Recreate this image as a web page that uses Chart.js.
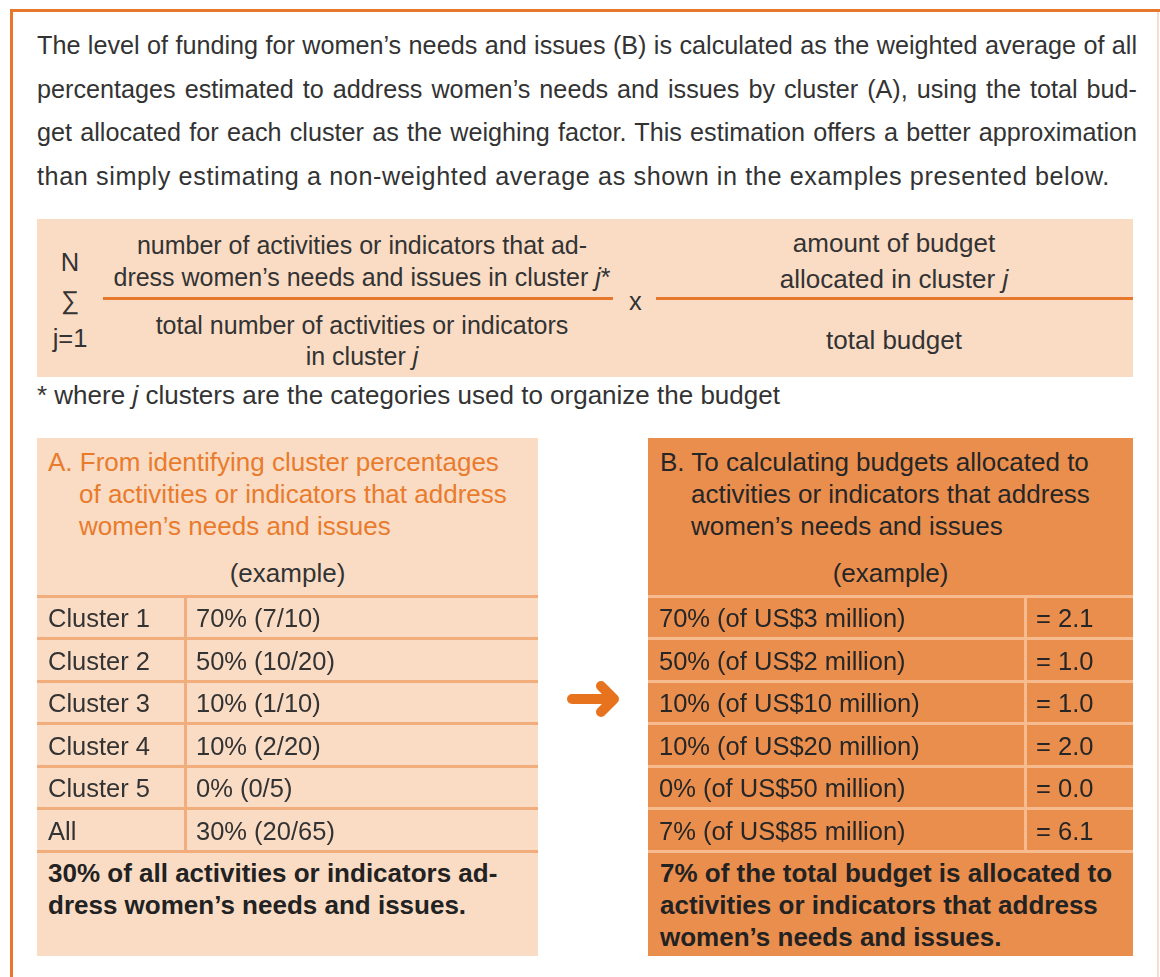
<!DOCTYPE html>
<html lang="en">
<head>
<meta charset="UTF-8">
<script src="https://cdn.jsdelivr.net/npm/chart.js@4.4.1/dist/chart.umd.min.js"></script>
<title>weighted funding example</title>
<style>
  body { margin:0; width:1160px; height:977px; overflow:hidden; background:#fff;
         font-family:"Liberation Sans", Arial, sans-serif; color:#333; position:relative; }
  .frame { position:absolute; left:10px; top:9px; width:1150px; height:968px;
           border-top:3px solid #e8772e; border-left:3px solid #e8772e; }
  .edge { position:absolute; left:1157px; top:12px; width:2px; height:965px; background:#f8dccb; }
  .para { position:absolute; left:37px; top:24px; width:1100px; font-size:25.2px; line-height:43.5px; }
  .para div { text-align:justify; text-align-last:justify; white-space:nowrap; }
  .para div:last-child { text-align-last:left; letter-spacing:0.6px; }
  .t { position:absolute; white-space:nowrap; font-size:25.5px; line-height:32px; }
  .h { font-size:26px; }
  .c { text-align:center; }
  .box { position:absolute; }
  .rule { position:absolute; height:3px; background:#e8772e; }
  .bold { font-weight:bold; font-size:26px; color:#222; }
  canvas { position:absolute; }
</style>
</head>
<body>
<div class="frame"></div>
<div class="edge"></div>

<div class="para">
  <div>The level of funding for women’s needs and issues (B) is calculated as the weighted average of all</div>
  <div>percentages estimated to address women’s needs and issues by cluster (A), using the total bud-</div>
  <div>get allocated for each cluster as the weighing factor. This estimation offers a better approximation</div>
  <div>than simply estimating a non-weighted average as shown in the examples presented below.</div>
</div>

<!-- formula -->
<div class="box" style="left:37px;top:219px;width:1096px;height:158px;background:#fadcc5"></div>
<div class="t c" style="left:50px;width:40px;top:246px">N</div>
<div class="t c" style="left:50px;width:40px;top:284px">∑</div>
<div class="t c" style="left:50px;width:40px;top:322px">j=1</div>
<div class="t c" style="left:112px;width:500px;top:229px;font-size:25px">number of activities or indicators that ad-</div>
<div class="t c" style="left:112px;width:500px;top:261px;font-size:25px">dress women’s needs and issues in cluster <i>j</i>*</div>
<div class="rule" style="left:103px;top:297px;width:510px"></div>
<div class="t" style="left:629px;top:285px">x</div>
<div class="rule" style="left:656px;top:297px;width:477px"></div>
<div class="t c h" style="left:660px;width:468px;top:227px">amount of budget</div>
<div class="t c h" style="left:660px;width:468px;top:263px">allocated in cluster <i>j</i></div>
<div class="t c" style="left:112px;width:500px;top:309px;font-size:25px">total number of activities or indicators</div>
<div class="t c" style="left:112px;width:500px;top:340px;font-size:25px">in cluster <i>j</i></div>
<div class="t c h" style="left:660px;width:468px;top:324px">total budget</div>
<div class="t h" style="left:37px;top:379px">* where <i>j</i> clusters are the categories used to organize the budget</div>

<!-- panel A -->
<div class="box" style="left:37px;top:438px;width:501px;height:518px;background:#fadcc5"></div>
<div class="t h" style="left:48px;top:446px;color:#e97b2c">A. From identifying cluster percentages</div>
<div class="t h" style="left:79px;top:478px;color:#e97b2c">of activities or indicators that address</div>
<div class="t h" style="left:79px;top:510px;color:#e97b2c">women’s needs and issues</div>
<div class="t c h" style="left:37px;width:501px;top:557px">(example)</div>
<canvas id="tableA" width="501" height="259" style="left:37px;top:594px"></canvas>
<div class="t bold" style="left:48px;top:857px">30% of all activities or indicators ad-</div>
<div class="t bold" style="left:48px;top:889px">dress women’s needs and issues.</div>

<!-- arrow -->
<svg class="box" style="left:560px;top:680px" width="70" height="40">
  <path d="M12,19 L46,19 M41,6 L54,19 L41,32" fill="none" stroke="#e8731f" stroke-width="10"
        stroke-linecap="round" stroke-linejoin="round"/>
</svg>

<!-- panel B -->
<div class="box" style="left:648px;top:438px;width:485px;height:518px;background:#ea8e4e"></div>
<div class="t h" style="left:660px;top:446px;color:#262626">B. To calculating budgets allocated to</div>
<div class="t h" style="left:691px;top:478px;color:#262626">activities or indicators that address</div>
<div class="t h" style="left:691px;top:510px;color:#262626">women’s needs and issues</div>
<div class="t c h" style="left:648px;width:485px;top:557px;color:#262626">(example)</div>
<canvas id="tableB" width="485" height="259" style="left:648px;top:594px"></canvas>
<div class="t bold" style="left:660px;top:857px">7% of the total budget is allocated to</div>
<div class="t bold" style="left:660px;top:889px">activities or indicators that address</div>
<div class="t bold" style="left:660px;top:921px">women’s needs and issues.</div>

<script>
// rows of both tables
const clusters = ['Cluster 1', 'Cluster 2', 'Cluster 3', 'Cluster 4', 'Cluster 5', 'All'];
const addressCount = [7, 10, 1, 2, 0, 20];
const totalCount = [10, 20, 10, 20, 5, 65];
const clusterPct = [70, 50, 10, 10, 0, 30];
const budgetMillions = [3, 2, 10, 20, 50, 85];
const allocPct = [70, 50, 10, 10, 0, 7];
const allocated = [2.1, 1.0, 1.0, 2.0, 0.0, 6.1];

const colA = clusters;
const colB = clusterPct.map((p, i) => `${p}% (${addressCount[i]}/${totalCount[i]})`);
const colC = allocPct.map((p, i) => `${p}% (of US$${budgetMillions[i]} million)`);
const colD = allocated.map(v => `= ${v.toFixed(1)}`);

// draws the cell text at the row centres of the y scale
const cellText = {
    id: 'cellText',
    afterDraw(chart, args, opts) {
        const ctx = chart.ctx;
        const y = chart.scales.y;
        const split = chart.scales.x.getPixelForValue(opts.split);
        ctx.save();
        ctx.font = '25.5px "Liberation Sans", Arial, sans-serif';
        ctx.fillStyle = opts.color;
        ctx.textBaseline = 'middle';
        clusters.forEach((c, i) => {
            const py = y.getPixelForValue(i) + 3;
            ctx.fillText(opts.left[i], chart.chartArea.left + 11, py);
            ctx.fillText(opts.right[i], split + 11, py);
        });
        ctx.restore();
    }
};

function makeTable(id, split, lineColor, textColor, left, right) {
    return new Chart(document.getElementById(id), {
        type: 'bar',
        data: { labels: clusters, datasets: [] },
        options: {
            indexAxis: 'y',
            responsive: false,
            animation: false,
            devicePixelRatio: 1,
            layout: { padding: { top: 2, bottom: 2, left: 0, right: 0 } },
            plugins: {
                legend: { display: false },
                tooltip: { enabled: false },
                cellText: { split, color: textColor, left, right }
            },
            scales: {
                y: {
                    type: 'category',
                    offset: true,
                    ticks: { display: false },
                    border: { display: false },
                    grid: { offset: true, color: lineColor, lineWidth: 3, drawTicks: false }
                },
                x: {
                    type: 'linear', min: 0, max: 1,
                    offset: false,
                    afterBuildTicks: s => { s.ticks = [{ value: split }]; },
                    ticks: { display: false },
                    border: { display: false },
                    grid: { offset: false, color: lineColor, lineWidth: 3, drawTicks: false }
                }
            }
        },
        plugins: [cellText]
    });
}

makeTable('tableA', 148 / 501, '#f1ad7b', '#333', colA, colB);
makeTable('tableB', 377 / 485, '#f6bb8e', '#262626', colC, colD);
</script>
</body>
</html>
